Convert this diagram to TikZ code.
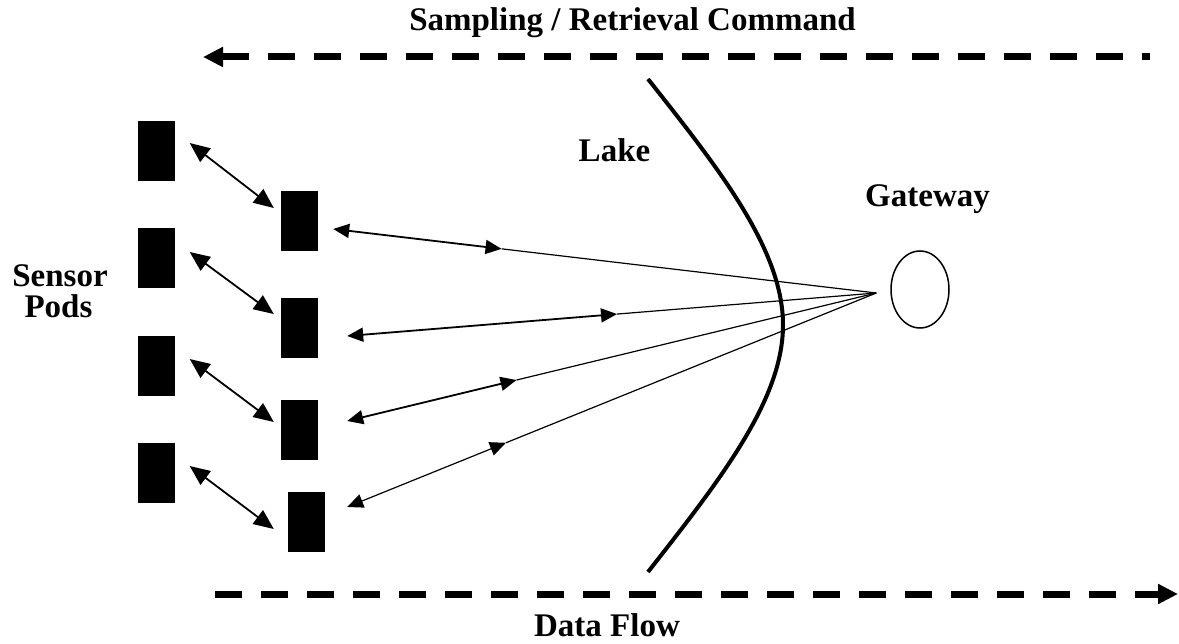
\documentclass[tikz,border=0pt]{standalone}
\usepackage{fontspec}
\setmainfont{Liberation Serif}
\usetikzlibrary{arrows.meta,calc,shapes.geometric}
\begin{document}
\begin{tikzpicture}[x=1pt,y=-1pt,
  pod/.style={rectangle,fill=black,draw=none,minimum width=37pt,minimum height=60pt,inner sep=0pt},
  lbl/.style={font=\fontsize{33}{39}\selectfont\bfseries,inner sep=0pt,anchor=base},
  podlink/.style={line width=1.8pt,{Triangle[length=20pt,width=17pt]}-{Triangle[length=20pt,width=17pt]}},
  radiohead/.style={line width=1.8pt,{Triangle[length=16pt,width=14pt]}-{Triangle[length=16pt,width=14pt]}},
  radiotail/.style={line width=1.2pt},
  bigdash/.style={line width=7pt,dash pattern=on 27pt off 19pt}
]
\useasboundingbox (0,0) rectangle (1179,644);
% pods
\node[pod] (L1) at (156,151) {};
\node[pod] (L2) at (156,258) {};
\node[pod] (L3) at (156,366) {};
\node[pod] (L4) at (156,473) {};
\node[pod] (R1) at (299.5,221) {};
\node[pod] (R2) at (299.5,328.5) {};
\node[pod] (R3) at (299.5,430) {};
\node[pod] (R4) at (306.5,522) {};
% pod-to-pod links
\draw[podlink] ($(L1.east)+(15,-8)$) -- ($(R1.west)+(-7,-13)$);
\draw[podlink] ($(L2.east)+(15,-6)$) -- ($(R2.west)+(-7,-14.5)$);
\draw[podlink] ($(L3.east)+(15,-7)$) -- ($(R3.west)+(-7,-8)$);
\draw[podlink] ($(L4.east)+(15,-7)$) -- ($(R4.west)+(-14,7)$);
% gateway
\node[ellipse,draw,line width=1.5pt,minimum width=58pt,minimum height=77pt,inner sep=0pt] (G) at (920,289.5) {};
\coordinate (F) at ($(G.west)+(-14,3.5)$);
% radio links
\coordinate (T1) at ($(R1.east)+(15,8)$);
\coordinate (T2) at ($(R2.east)+(29,7.5)$);
\coordinate (T3) at ($(R3.east)+(29,-9)$);
\coordinate (T4) at ($(R4.east)+(22,-15)$);
\coordinate (M1) at ($(T1)!0.31!(F)$);
\coordinate (M2) at ($(T2)!0.51!(F)$);
\coordinate (M3) at ($(T3)!0.32!(F)$);
\coordinate (M4) at ($(T4)!0.30!(F)$);
\draw[radiohead] (T1) -- (M1);
\draw[radiotail] (M1) -- (F);
\draw[radiohead] (T2) -- (M2);
\draw[radiotail] (M2) -- (F);
\draw[radiohead] (T3) -- (M3);
\draw[radiotail] (M3) -- (F);
\draw[radiotail,{Triangle[length=16pt,width=14pt]}-{Triangle[length=16pt,width=14pt]}] (T4) -- (M4);
\draw[radiotail] (M4) -- (F);
% lake boundary
\coordinate (LkT) at (648,79);
\coordinate (LkV) at (783,325);
\coordinate (LkB) at (648,572);
\draw[line width=4pt] (LkT) .. controls (720,170) and (783,250) .. (LkV)
  .. controls (783,400) and (720,480) .. (LkB);
% command / data arrows
\coordinate (CmdR) at (1150,57);
\coordinate (CmdL) at (203,57);
\coordinate (DatL) at (215,594);
\coordinate (DatR) at (1178,594);
\draw[bigdash,{Triangle[length=20pt,width=19pt]}-] (CmdL) -- (CmdR);
\draw[bigdash,-{Triangle[length=20pt,width=19pt]}] (DatL) -- (DatR);
% labels
\node[lbl] (cmd) at (632.5,31) {Sampling / Retrieval Command};
\node[lbl] (data) at (607,636) {Data Flow};
\node[lbl] (lake) at (614.5,162) {Lake};
\node[lbl] (gw) at (927.5,207) {Gateway};
\node[lbl] (sensor) at (60,287) {Sensor};
\node[lbl] (pods) at (58.5,318) {Pods};
\end{tikzpicture}
\end{document}
